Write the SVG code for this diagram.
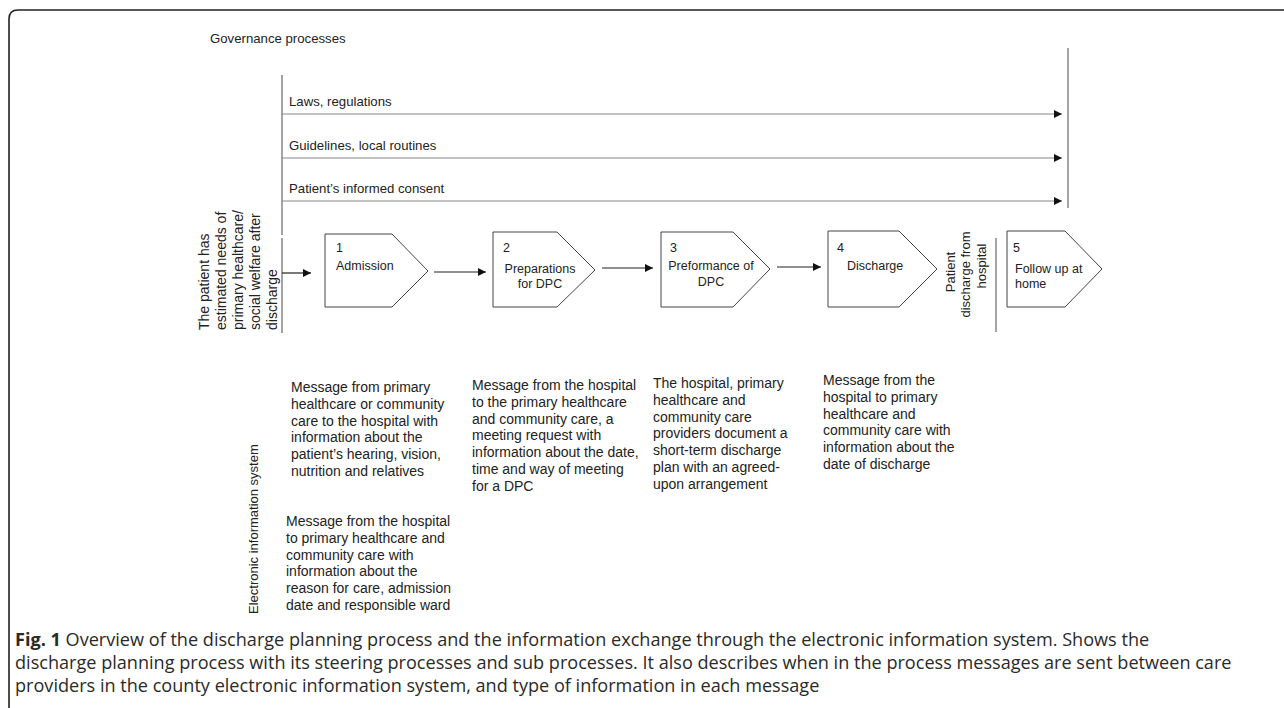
<svg xmlns="http://www.w3.org/2000/svg" width="1284" height="708" viewBox="0 0 1284 708">
  <defs>
    <marker id="arrow" viewBox="0 0 10 10" refX="10" refY="5" markerWidth="9" markerHeight="8" markerUnits="userSpaceOnUse" orient="auto">
      <path d="M0,0 L10,5 L0,10 z" fill="#111"/>
    </marker>
    <style>
      .lbl { font-family: "Liberation Sans", Arial, sans-serif; font-size: 14px; fill: #222; }
      .gvt { font-family: "Liberation Sans", Arial, sans-serif; font-size: 13.2px; fill: #222; }
      .stp { font-family: "Liberation Sans", Arial, sans-serif; font-size: 12.5px; fill: #222; }
      .vlb { font-family: "Liberation Sans", Arial, sans-serif; font-size: 13px; fill: #222; }
      .cap { font-family: "Open Sans", "Liberation Sans", sans-serif; font-size: 18.1px; fill: #2a2a2a; }
      .capb { font-weight: bold; }
      .step { fill: #fff; stroke: #444; stroke-width: 1; }
      .gov { stroke: #888; stroke-width: 1.2; fill: none; }
      .bar { stroke: #666; stroke-width: 1.2; fill: none; }
      .flow { stroke: #222; stroke-width: 1.2; fill: none; }
      .frame { stroke: #222; stroke-width: 1.6; fill: none; }
    </style>
  </defs>

  <rect width="1284" height="708" fill="#fff"/>

  <!-- figure frame -->
  <path class="frame" d="M9,708 L9,19 Q9,10 18,10 L1284,10"/>

  <!-- governance section -->
  <g id="governance">
    <text class="gvt" x="210" y="43" font-size="12.6">Governance processes</text>
    <text class="gvt" x="289" y="106">Laws, regulations</text>
    <text class="gvt" x="289" y="150">Guidelines, local routines</text>
    <text class="gvt" x="289" y="193">Patient’s informed consent</text>
  </g>

  <!-- connectors -->
  <g id="connectors">
    <line class="bar" x1="282" y1="75" x2="282" y2="235"/>
    <line class="bar" x1="1068" y1="48" x2="1068" y2="208"/>
    <line class="gov" x1="282" y1="114" x2="1062" y2="114" marker-end="url(#arrow)"/>
    <line class="gov" x1="282" y1="158" x2="1062" y2="158" marker-end="url(#arrow)"/>
    <line class="gov" x1="282" y1="201" x2="1062" y2="201" marker-end="url(#arrow)"/>
    <line class="bar" x1="282" y1="238" x2="282" y2="333"/>
    <line class="bar" x1="996" y1="238" x2="996" y2="332"/>
    <line class="flow" x1="282" y1="273" x2="311" y2="273" marker-end="url(#arrow)"/>
    <line class="flow" x1="434" y1="272" x2="486" y2="272" marker-end="url(#arrow)"/>
    <line class="flow" x1="602" y1="268" x2="653" y2="268" marker-end="url(#arrow)"/>
    <line class="flow" x1="777" y1="267" x2="821" y2="267" marker-end="url(#arrow)"/>
  </g>

  <!-- entry condition -->
  <g id="entry">
    <text class="lbl" transform="rotate(-90 209 330)" x="209" y="330">The patient has</text>
    <text class="lbl" transform="rotate(-90 226 330)" x="226" y="330">estimated needs of</text>
    <text class="lbl" transform="rotate(-90 243 330)" x="243" y="330">primary healthcare/</text>
    <text class="lbl" transform="rotate(-90 260 330)" x="260" y="330">social welfare after</text>
    <text class="lbl" transform="rotate(-90 277 330)" x="277" y="330">discharge</text>
  </g>

  <!-- process steps -->
  <g id="step1">
    <path class="step" d="M325,234 L392,234 L428,271 L392,307 L325,307 z"/>
    <text class="stp" x="336" y="252">1</text>
    <text class="stp" x="336" y="270">Admission</text>
  </g>
  <g id="step2">
    <path class="step" d="M493,232 L557,232 L595,270 L557,307 L493,307 z"/>
    <text class="stp" x="503" y="252">2</text>
    <text class="stp" x="540" y="273" text-anchor="middle">Preparations</text>
    <text class="stp" x="540" y="288" text-anchor="middle">for DPC</text>
  </g>
  <g id="step3">
    <path class="step" d="M661,232 L733,232 L770,269 L733,307 L661,307 z"/>
    <text class="stp" x="670" y="252">3</text>
    <text class="stp" x="711" y="270" text-anchor="middle">Preformance of</text>
    <text class="stp" x="711" y="286" text-anchor="middle">DPC</text>
  </g>
  <g id="step4">
    <path class="step" d="M828,231 L899,231 L937,269 L899,307 L828,307 z"/>
    <text class="stp" x="837" y="252">4</text>
    <text class="stp" x="847" y="270">Discharge</text>
  </g>
  <g id="discharge-point">
    <text class="vlb" transform="rotate(-90 954.5 272)" x="954.5" y="272" text-anchor="middle">Patient</text>
    <text class="vlb" transform="rotate(-90 969.5 274.5)" x="969.5" y="274.5" text-anchor="middle">discharge from</text>
    <text class="vlb" transform="rotate(-90 985.5 266)" x="985.5" y="266" text-anchor="middle">hospital</text>
  </g>
  <g id="step5">
    <path class="step" d="M1007,231 L1065,231 L1102,269 L1065,307 L1007,307 z"/>
    <text class="stp" x="1013" y="252">5</text>
    <text class="stp" x="1015" y="273">Follow up at</text>
    <text class="stp" x="1015" y="288">home</text>
  </g>

  <!-- electronic information system messages -->
  <g id="eis-label">
    <text class="vlb" transform="rotate(-90 258 614)" x="258" y="614" font-size="13.8">Electronic information system</text>
  </g>
  <g id="msg1">
    <text class="lbl" x="291" y="392">
      <tspan x="291" dy="0">Message from primary</tspan>
      <tspan x="291" dy="16.8">healthcare or community</tspan>
      <tspan x="291" dy="16.8">care to the hospital with</tspan>
      <tspan x="291" dy="16.8">information about the</tspan>
      <tspan x="291" dy="16.8">patient’s hearing, vision,</tspan>
      <tspan x="291" dy="16.8">nutrition and relatives</tspan>
    </text>
  </g>
  <g id="msg2">
    <text class="lbl" x="472" y="390">
      <tspan x="472" dy="0">Message from the hospital</tspan>
      <tspan x="472" dy="16.8">to the primary healthcare</tspan>
      <tspan x="472" dy="16.8">and community care, a</tspan>
      <tspan x="472" dy="16.8">meeting request with</tspan>
      <tspan x="472" dy="16.8">information about the date,</tspan>
      <tspan x="472" dy="16.8">time and way of meeting</tspan>
      <tspan x="472" dy="16.8">for a DPC</tspan>
    </text>
  </g>
  <g id="msg3">
    <text class="lbl" x="653" y="388">
      <tspan x="653" dy="0">The hospital, primary</tspan>
      <tspan x="653" dy="16.8">healthcare and</tspan>
      <tspan x="653" dy="16.8">community care</tspan>
      <tspan x="653" dy="16.8">providers document a</tspan>
      <tspan x="653" dy="16.8">short-term discharge</tspan>
      <tspan x="653" dy="16.8">plan with an agreed-</tspan>
      <tspan x="653" dy="16.8">upon arrangement</tspan>
    </text>
  </g>
  <g id="msg4">
    <text class="lbl" x="823" y="385">
      <tspan x="823" dy="0">Message from the</tspan>
      <tspan x="823" dy="16.8">hospital to primary</tspan>
      <tspan x="823" dy="16.8">healthcare and</tspan>
      <tspan x="823" dy="16.8">community care with</tspan>
      <tspan x="823" dy="16.8">information about the</tspan>
      <tspan x="823" dy="16.8">date of discharge</tspan>
    </text>
  </g>
  <g id="msg5">
    <text class="lbl" x="286" y="526">
      <tspan x="286" dy="0">Message from the hospital</tspan>
      <tspan x="286" dy="16.8">to primary healthcare and</tspan>
      <tspan x="286" dy="16.8">community care with</tspan>
      <tspan x="286" dy="16.8">information about the</tspan>
      <tspan x="286" dy="16.8">reason for care, admission</tspan>
      <tspan x="286" dy="16.8">date and responsible ward</tspan>
    </text>
  </g>

  <!-- caption -->
  <g id="caption">
    <text class="cap" x="15" y="646"><tspan class="capb">Fig. 1</tspan> Overview of the discharge planning process and the information exchange through the electronic information system. Shows the</text>
    <text class="cap" x="15" y="669">discharge planning process with its steering processes and sub processes. It also describes when in the process messages are sent between care</text>
    <text class="cap" x="15" y="692">providers in the county electronic information system, and type of information in each message</text>
  </g>
</svg>
